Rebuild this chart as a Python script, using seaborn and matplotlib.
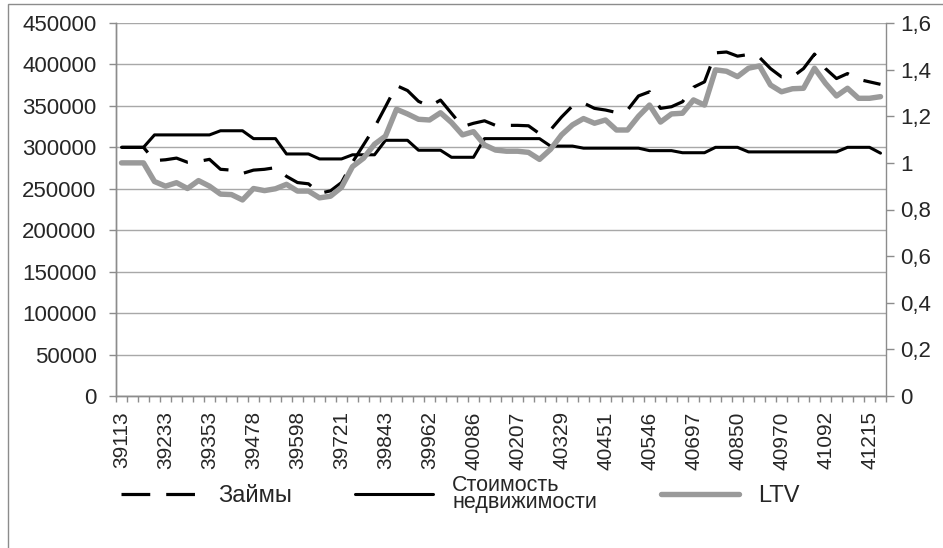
import numpy as np
import pandas as pd
import matplotlib
matplotlib.use("Agg")
import matplotlib.pyplot as plt
from matplotlib.ticker import FuncFormatter, MultipleLocator, FixedLocator
from matplotlib.patches import Rectangle
import seaborn as sns

# подписи оси X (каждая 4-я дата, формат Excel)
tick_labels = ['39113', '39233', '39353', '39478', '39598', '39721', '39843', '39962', '40086',
               '40207', '40329', '40451', '40546', '40697', '40850', '40970', '41092', '41215']

# Займы (левая ось)
loans = [300000, 300000, 300000, 284000, 285000, 287000, 282000, 283000, 285500, 273500,
         272500, 268500, 272500, 273500, 275500, 265000, 257500, 256000, 244500, 247500,
         257500, 282000, 303000, 324000, 349000, 374500, 368500, 355500, 349500, 357000,
         341000, 325000, 329000, 332000, 326500, 326500, 326500, 326000, 316500, 321000,
         336500, 350000, 353500, 347000, 345000, 342000, 345000, 362000, 367000, 347000,
         349000, 355000, 372500, 379000, 414000, 415000, 410000, 412000, 408500, 395000,
         385000, 385000, 395000, 412500, 395000, 383000, 389000, 382000, 379000, 376000]

# Стоимость недвижимости (левая ось)
property_value = [300000, 300000, 300000, 315000, 315000, 315000, 315000, 315000, 315000, 320000,
                  320000, 320000, 310500, 310500, 310500, 292000, 292000, 292000, 286000, 286000,
                  286000, 291000, 291000, 291000, 308500, 308500, 308500, 296500, 296500, 296500,
                  288000, 288000, 288000, 310500, 310500, 310500, 310500, 310500, 310500, 301500,
                  301500, 301500, 299000, 299000, 299000, 299000, 299000, 299000, 296000, 296000,
                  296000, 293500, 293500, 293500, 300000, 300000, 300000, 294500, 294500, 294500,
                  294500, 294500, 294500, 294500, 294500, 294500, 300000, 300000, 300000, 293000]

# LTV (правая ось)
ltv = [1.0, 1.0, 1.0, 0.92, 0.90, 0.915, 0.89, 0.924, 0.90, 0.866,
       0.864, 0.841, 0.89, 0.881, 0.889, 0.908, 0.879, 0.879, 0.85, 0.857,
       0.895, 0.984, 1.02, 1.08, 1.115, 1.23, 1.21, 1.187, 1.184, 1.215,
       1.173, 1.12, 1.134, 1.077, 1.055, 1.05, 1.05, 1.045, 1.015, 1.058,
       1.12, 1.163, 1.19, 1.17, 1.184, 1.141, 1.141, 1.2, 1.248, 1.175,
       1.21, 1.213, 1.27, 1.248, 1.399, 1.393, 1.37, 1.406, 1.416, 1.334,
       1.305, 1.318, 1.32, 1.406, 1.341, 1.287, 1.32, 1.277, 1.277, 1.284]

df = pd.DataFrame({'i': np.arange(len(loans)), 'loans': loans,
                   'prop': property_value, 'ltv': ltv})

sns.set_style('white')
plt.rcParams['font.family'] = ['Liberation Sans', 'DejaVu Sans']

grey = '#8c8c8c'
W, H = 943, 548
fig = plt.figure(figsize=(W / 100, H / 100), dpi=100)
ax = fig.add_axes([116 / W, 1 - 396 / H, 770 / W, 373 / H])
ax2 = ax.twinx()

sns.lineplot(data=df, x='i', y='loans', ax=ax, color='black', linewidth=2.3)
sns.lineplot(data=df, x='i', y='prop', ax=ax, color='black', linewidth=2.2)
sns.lineplot(data=df, x='i', y='ltv', ax=ax2, color='#9a9a9a', linewidth=3.9)
l_loans, l_prop = ax.lines[0], ax.lines[1]
l_ltv = ax2.lines[0]
l_loans.set_dashes((9, 5))
l_loans.set_dash_capstyle('butt')
l_prop.set_solid_capstyle('round')
l_ltv.set_solid_capstyle('round')

# левая ось
ax.set_ylim(0, 450000)
ax.yaxis.set_major_locator(MultipleLocator(50000))
ax.yaxis.set_major_formatter(FuncFormatter(lambda v, p: f'{int(v)}'))
ax.yaxis.grid(True, color='#a8a8a8', lw=1)
ax.set_axisbelow(True)

# правая ось
ax2.set_ylim(0, 1.6)
ax2.yaxis.set_major_locator(MultipleLocator(0.2))
ax2.yaxis.set_major_formatter(FuncFormatter(lambda v, p: ('%g' % round(v, 1)).replace('.', ',')))
ax2.grid(False)

# ось X
ax.set_xlim(-0.5, len(loans) - 0.5)
ax.set_xticks(np.arange(0, len(loans), 4))
ax.set_xticklabels(tick_labels, fontsize=15, rotation=90)
ax.xaxis.set_minor_locator(FixedLocator(np.arange(-0.5, len(loans), 1)))
ax.tick_params(axis='x', which='major', length=0, pad=11, labelsize=15, labelrotation=90)
ax.tick_params(axis='x', which='minor', length=4, width=1, color=grey, direction='out', bottom=True)
ax.tick_params(axis='y', length=5, width=1, color=grey, direction='out', labelsize=16, pad=9, left=True)
ax2.tick_params(axis='y', length=6, width=1, color=grey, direction='out', labelsize=16, pad=4, right=True)

for a in (ax, ax2):
    a.set_xlabel('')
    a.set_ylabel('')
    a.spines['top'].set_visible(False)
    for s in ('left', 'right', 'bottom'):
        a.spines[s].set_color(grey)
        a.spines[s].set_linewidth(1)
ax.spines['right'].set_visible(False)

leg = fig.legend([l_loans, l_prop, l_ltv], ['Займы', 'Стоимость\nнедвижимости', 'LTV'],
                 loc='center left', bbox_to_anchor=(121 / W, 1 - 494 / H), ncol=3,
                 frameon=False, fontsize=17, handlelength=3.3, handletextpad=0.8,
                 columnspacing=2.7, borderpad=0, borderaxespad=0)
t = leg.get_texts()[1]
t.set_fontsize(15.5)
t.set_linespacing(0.75)

# рамка области диаграммы
fig.patches.append(Rectangle((8 / W, -0.05), 1.0, 1 - 3.5 / H + 0.05, transform=fig.transFigure,
                             fill=False, edgecolor=grey, lw=1))

fig.savefig('out.png', dpi=100)
